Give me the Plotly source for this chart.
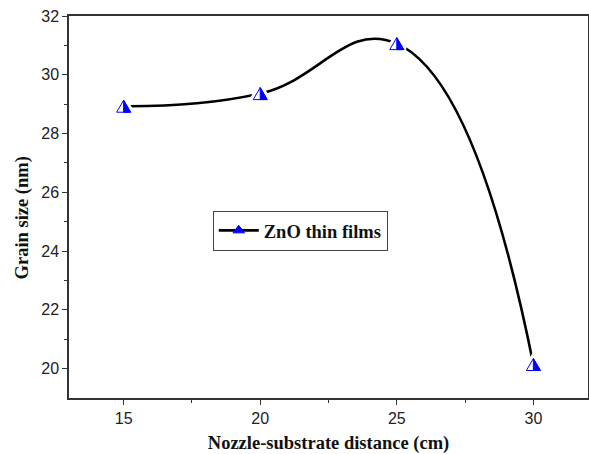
import plotly.graph_objects as go

# Data
distance_cm = [15, 20, 25, 30]
grain_size_nm = [28.93, 29.36, 31.06, 20.14]
series_name = "ZnO thin films"
x_ticks = [15, 20, 25, 30]
y_ticks = [20, 22, 24, 26, 28, 30, 32]

X_RANGE = [13, 32]
Y_RANGE = [19, 32]

W, H = 589, 454
ML, MR, MT, MB = 69, 1, 16, 56
plot_w = W - ML - MR
plot_h = H - MT - MB
px_x = plot_w / (X_RANGE[1] - X_RANGE[0])
px_y = plot_h / (Y_RANGE[1] - Y_RANGE[0])

# marker half-size in pixels -> data units
hw = 7.0 / px_x
hh = 6.0 / px_y

BLUE = "#0000ff"
TITLE_FONT = dict(family="Liberation Serif, Times New Roman", size=18.5,
                  color="#111111")

fig = go.Figure()

# smooth curve
fig.add_trace(go.Scatter(
    x=distance_cm, y=grain_size_nm, mode="lines",
    line=dict(color="black", width=2.6, shape="spline", smoothing=1.3),
    showlegend=False, hoverinfo="skip",
))

# marker polygons built from the data arrays
ox, oy, fx, fy = [], [], [], []
for xv, yv in zip(distance_cm, grain_size_nm):
    ox += [xv - hw, xv + hw, xv, xv - hw, None]
    oy += [yv - hh, yv - hh, yv + hh, yv - hh, None]
    fx += [xv, xv + hw, xv, xv, None]
    fy += [yv - hh, yv - hh, yv + hh, yv - hh, None]

# white halo: the gap between the curve and each symbol
fig.add_trace(go.Scatter(
    x=ox, y=oy, mode="lines", fill="toself", fillcolor="white",
    line=dict(color="white", width=7), showlegend=False, hoverinfo="skip",
))
fig.add_trace(go.Scatter(
    x=ox, y=oy, mode="lines", fill="toself", fillcolor="white",
    line=dict(color=BLUE, width=1), showlegend=False, hoverinfo="skip",
))
fig.add_trace(go.Scatter(
    x=fx, y=fy, mode="lines", fill="toself", fillcolor=BLUE,
    line=dict(color=BLUE, width=1), showlegend=False, hoverinfo="skip",
))

# legend entry
fig.add_trace(go.Scatter(
    x=[None], y=[None], mode="lines+markers", name=series_name,
    line=dict(color="black", width=2.6),
    marker=dict(symbol="triangle-up", size=10, color=BLUE,
                line=dict(color=BLUE, width=1)),
))

axis_common = dict(
    showgrid=False, zeroline=False, showline=True, linecolor="#333333",
    linewidth=1.5, mirror=True, ticks="outside", ticklen=5, tickwidth=1.2,
    tickcolor="#333333",
    tickfont=dict(family="Liberation Sans, Arial", size=16, color="#222222"),
)

fig.update_xaxes(
    range=X_RANGE, tickvals=x_ticks, ticktext=[str(v) for v in x_ticks],
    minor=dict(ticks="outside", ticklen=3, tickwidth=1.2, tickcolor="#333333",
               tickvals=[12.5, 17.5, 22.5, 27.5]),
    title=dict(text="<b>Nozzle-substrate distance (cm)</b>", standoff=11,
               font=TITLE_FONT),
    **axis_common,
)
fig.update_yaxes(
    range=Y_RANGE, tickvals=y_ticks, ticktext=[str(v) for v in y_ticks],
    minor=dict(ticks="outside", ticklen=3, tickwidth=1.2, tickcolor="#333333",
               tickvals=[21, 23, 25, 27, 29, 31]),
    **axis_common,
)

# y-axis title (placed as an annotation so it can sit slightly below centre)
fig.add_annotation(
    text="<b>Grain size (nm)</b>", textangle=-90, showarrow=False,
    xref="paper", yref="paper", x=0, y=0.47, xanchor="center", yanchor="middle",
    xshift=-47, font=TITLE_FONT,
)

fig.update_layout(
    width=W, height=H,
    margin=dict(l=ML, r=MR, t=MT, b=MB, autoexpand=False),
    paper_bgcolor="white", plot_bgcolor="white",
    legend=dict(
        x=0.277, y=0.49, xanchor="left", yanchor="top",
        bgcolor="white", bordercolor="#444444", borderwidth=1,
        font=dict(family="Liberation Serif, Times New Roman", size=18.5,
                  color="#111111", weight="bold"),
        itemwidth=40,
    ),
)

fig.write_html(
    "out.html",
    config={"responsive": False, "displayModeBar": False},
    post_script="document.body.style.margin='0';document.body.style.overflow='hidden';",
)
